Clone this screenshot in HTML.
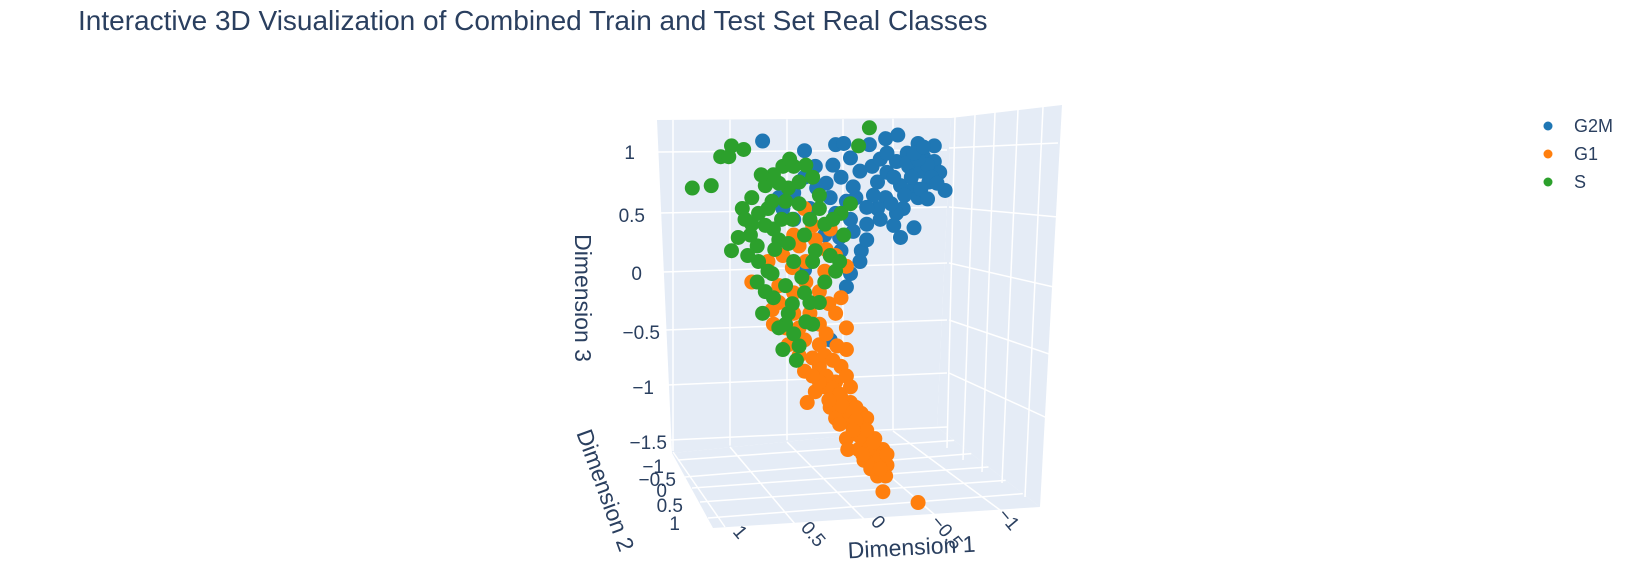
<!DOCTYPE html>
<html><head><meta charset="utf-8"><style>
body{margin:0;background:#fff;}
svg{display:block;font-family:"Liberation Sans",sans-serif;}
</style></head><body>
<svg id="chart" width="1637" height="578" viewBox="0 0 1637 578">
<text x="78" y="30" font-size="28" fill="#2a3f5f">Interactive 3D Visualization of Combined Train and Test Set Real Classes</text>
<g id="scene">
<polygon points="657,120 951,118 937,427 672,453" fill="#e5ecf6"/>
<polygon points="951,118 1062,105 1040,507 937,427" fill="#e5ecf6"/>
<polygon points="672,453 937,427 1040,507 713,528" fill="#e5ecf6"/>
<g id="grid" stroke="#fff" stroke-width="1.5" fill="none"></g>
<g id="ticks" font-size="19" fill="#2a3f5f"></g>
<g id="marks"></g>
<text transform="translate(575,298) rotate(90)" text-anchor="middle" font-size="23" fill="#2a3f5f">Dimension 3</text>
<text transform="translate(598,493) rotate(70)" text-anchor="middle" font-size="23" fill="#2a3f5f">Dimension 2</text>
<text transform="translate(912,555) rotate(-3)" text-anchor="middle" font-size="23" fill="#2a3f5f">Dimension 1</text>
</g>
<g font-size="18" fill="#2a3f5f">
<g><circle cx="1548" cy="126" r="4.5" fill="#1f77b4"/><text x="1574" y="132">G2M</text></g>
<g><circle cx="1548" cy="154" r="4.5" fill="#ff7f0e"/><text x="1574" y="160">G1</text></g>
<g><circle cx="1548" cy="182" r="4.5" fill="#2ca02c"/><text x="1574" y="188">S</text></g>
</g>
</svg>
<script>
const zTicks=["1","0.5","0","−0.5","−1","−1.5"];
const yTicks=["−1","−0.5","0","0.5","1"];
const xTicks=["1","0.5","0","−0.5","−1"];
const g2m=[[0.77,1.10],[0.46,1.02],[0.23,1.07],[0.17,1.08],[0.12,0.96],[-0.02,1.07],[-0.14,1.12],[-0.23,1.15],[-0.38,1.08],[-0.22,0.93],[-0.31,0.89],[-0.42,0.97],[-0.50,0.93],[-0.54,0.84],[-0.58,0.69],[-0.46,0.76],[-0.35,0.71],[-0.25,0.73],[-0.15,0.84],[-0.08,0.76],[-0.14,0.63],[-0.27,0.54],[-0.35,0.38],[-0.22,0.50],[-0.08,0.54],[0.00,0.41],[0.12,0.45],[0.23,0.50],[0.27,0.63],[0.37,0.71],[0.46,0.80],[0.54,0.67],[0.62,0.54],[0.31,0.32],[0.19,0.19],[0.04,0.19],[0.12,0.00],[0.46,0.03],[0.54,0.45],[0.00,0.28],[0.08,0.63],[-0.38,0.63],[-0.50,1.06],[-0.04,0.89],[0.19,0.80],[0.27,-0.55],[0.65,0.63],[0.42,0.54],[0.15,-0.11],[0.38,0.89],
[-0.30,1.0],[-0.40,0.85],[-0.45,0.90],[-0.33,0.80],[-0.20,0.80],[-0.28,0.65],[-0.40,0.70],[-0.48,0.80],[-0.52,0.75],[-0.10,0.95],[-0.05,0.65],[-0.18,0.58],[-0.30,0.92],[-0.38,0.95],[-0.15,1.0],[0.05,0.85],[0.10,0.72],[0.00,0.55],[-0.10,0.45],[-0.20,0.40],[0.10,0.35],[0.05,0.10],[0.20,0.30],[0.30,0.75],[0.25,0.90],[-0.45,0.62],[-0.25,0.30],[0.15,0.60],[-0.35,1.0],[-0.42,1.05]];
const g1=[[0.85,-0.07],[0.73,0.10],[0.62,0.15],[0.50,0.23],[0.38,0.28],[0.27,0.37],[0.23,0.15],[0.31,0.02],[0.45,-0.07],[0.54,-0.16],[0.65,-0.24],[0.69,-0.42],[0.58,-0.59],[0.46,-0.55],[0.35,-0.42],[0.23,-0.33],[0.19,-0.20],[0.15,0.06],[0.42,-0.33],[0.50,-0.68],[0.46,-0.81],[0.35,-0.77],[0.31,-0.94],[0.23,-0.90],[0.19,-1.03],[0.27,-1.11],[0.15,-1.16],[0.12,-1.24],[0.08,-1.33],[0.04,-1.29],[0.00,-1.42],[-0.04,-1.50],[-0.08,-1.55],[-0.12,-1.46],[-0.15,-1.59],[-0.08,-1.68],[-0.06,-1.37],[0.04,-1.16],[0.12,-1.07],[0.23,-1.20],[0.15,-1.37],[0.02,-1.55],[-0.12,-1.81],[-0.38,-1.90],[0.44,-1.07],[0.35,-0.59],[0.46,0.54],[0.54,0.32],[0.31,-0.68],[0.19,-0.77],[0.12,-0.94],[0.08,-1.11],[0.00,-1.20],[-0.05,-1.59],[-0.14,-1.68],[0.14,-1.46],[0.06,-1.46],[0.25,-0.72],[0.38,-0.98],[0.15,-0.63],[0.54,-0.33],
[0.30,-0.85],[0.25,-0.95],[0.20,-1.00],[0.18,-1.10],[0.10,-1.15],[0.08,-1.22],[0.05,-1.35],[0.00,-1.30],[-0.02,-1.45],[-0.05,-1.40],[-0.10,-1.52],[-0.03,-1.62],[0.10,-1.30],[0.20,-1.25],[0.28,-1.05],[0.35,-0.90],[0.40,-0.85],[-0.10,-1.62],[-0.15,-1.50],[0.03,-1.50],[0.15,-0.85],[0.22,-0.60],[0.30,-0.50],[0.40,-0.70],[0.60,-0.45],[0.65,-0.10],[0.55,0.05],[0.45,0.10],[0.35,-0.15],[0.28,-0.25],[0.70,-0.30],[0.50,-0.45],[0.15,-0.45],[0.40,0.40],[0.30,0.20]];
const sPhase=[[1.29,0.71],[1.15,0.73],[1.00,1.06],[1.08,0.97],[1.02,0.97],[0.91,1.03],[0.85,0.63],[0.75,0.73],[1.00,0.19],[0.92,0.54],[0.85,0.41],[0.81,0.23],[0.69,0.37],[0.58,0.71],[0.50,0.76],[0.54,0.89],[0.65,0.28],[0.54,0.10],[0.73,0.02],[0.69,-0.20],[0.58,-0.33],[0.54,-0.50],[0.62,-0.63],[0.42,-0.24],[0.31,-0.07],[0.23,0.02],[0.38,0.19],[0.46,0.32],[0.31,0.41],[0.19,0.50],[0.12,0.58],[-0.02,1.21],[0.06,1.06],[0.40,0.10],[0.81,-0.07],[0.88,0.15],[0.73,0.54],[0.63,0.45],[0.50,0.58],[0.35,0.54],[0.17,0.32],[0.27,0.15],[0.46,-0.16],[0.60,-0.42],[0.52,-0.72],[0.40,-0.42],[0.77,-0.33],[0.86,0.32],[0.62,0.89],[0.69,0.82],[0.48,-0.03],[0.35,-0.24],
[0.80,0.50],[0.75,0.40],[0.70,0.60],[0.65,0.75],[0.60,0.60],[0.55,0.45],[0.80,0.10],[0.75,-0.15],[0.70,0.00],[0.60,-0.10],[0.65,-0.45],[0.55,-0.25],[0.45,-0.40],[0.50,-0.60],[0.42,0.45],[0.35,0.65],[0.40,0.80],[0.45,0.90],[0.57,0.95],[0.25,0.45],[0.20,0.10],[0.90,0.45],[0.95,0.30],[0.78,0.82],[0.68,0.20],[0.58,0.25]];

function sx(d1){return 866.7-135.2*d1;}
function sy(d3){return 273.6-120.5*d3;}
const NS="http://www.w3.org/2000/svg";
function mk(tag,attrs,parent){const e=document.createElementNS(NS,tag);for(const k in attrs)e.setAttribute(k,attrs[k]);parent.appendChild(e);return e;}
const grid=document.getElementById('grid'),ticks=document.getElementById('ticks'),marks=document.getElementById('marks');
const backH=[[152,150],[213,207],[272,263],[330,320],[385,373],[440,427]];
const sideH=[[148,143],[207,217],[263,288],[320,357],[373,423]];
backH.forEach((h,i)=>{let l=mk('line',{x1:658+i*2.5,y1:h[0],x2:947,y2:h[1]},grid);

});
sideH.forEach(h=>{let l=mk('line',{x1:949,y1:h[0],x2:1058,y2:h[1]},grid);

});
[673,730,787,843,893].forEach((x,i)=>{let l=mk('line',{x1:x,y1:120-i*0.3,x2:x,y2:451-i*5.4},grid);

});
[[955,947,448],[975,963,460],[995,982,472],[1018,1002,483],[1043,1025,497]].forEach((v,i)=>{let l=mk('line',{x1:v[0],y1:117-i*2.5,x2:v[1],y2:v[2]},grid);

});
[[678,460],[685,477],[692,488],[700,502],[708,518]].forEach((p,i)=>{const t=(i+1)/6;let l=mk('line',{x1:p[0],y1:p[1],x2:937+(1040-937)*t,y2:427+(507-427)*t},grid);

});
[[673,452,725,527],[730,447,795,524],[787,442,865,520],[843,436,935,515],[893,431,1000,510]].forEach(p=>{let l=mk('line',{x1:p[0],y1:p[1],x2:p[2],y2:p[3]},grid);

});
const zPos=[[635,159],[645,222],[642,280],[660,339],[654,394],[667,449]];
zTicks.forEach((t,i)=>{let e=mk('text',{x:zPos[i][0],y:zPos[i][1],'text-anchor':'end'},ticks);e.textContent=t;

});
const yPos=[[664,473],[676,486],[667,497],[683,512],[680,530]];
yTicks.forEach((t,i)=>{let e=mk('text',{x:yPos[i][0],y:yPos[i][1],'text-anchor':'end'},ticks);e.textContent=t;

});
const xPos=[[732,532],[800,528],[870,522],[930,522],[997,515]];
xTicks.forEach((t,i)=>{let e=mk('text',{transform:`translate(${xPos[i][0]},${xPos[i][1]}) rotate(50)`},ticks);e.textContent=t;

});
[[g2m,'#1f77b4','g2m-point'],[g1,'#ff7f0e','g1-point'],[sPhase,'#2ca02c','s-point']].forEach(s=>{
 s[0].forEach(p=>{let c=mk('circle',{cx:sx(p[0]),cy:sy(p[1]),r:7.5,fill:s[1]},marks);
  
  });
});
</script>
</body></html>
